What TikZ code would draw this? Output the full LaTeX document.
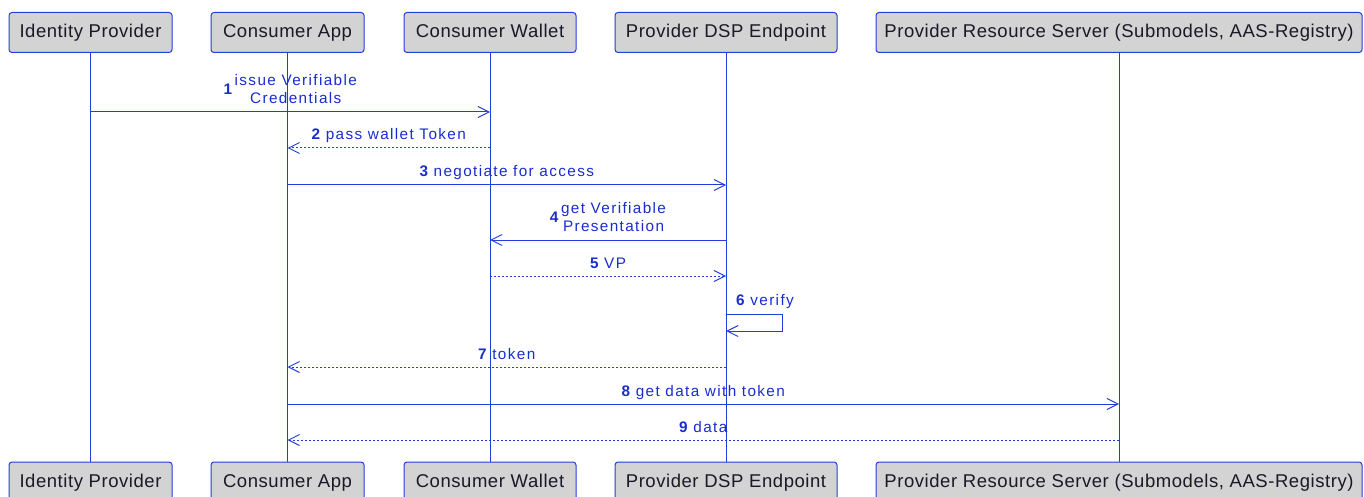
\documentclass[tikz,border=0pt]{standalone}
\usepackage{fontspec}
\setmainfont{Liberation Sans}
\newfontfamily\boxfont[LetterSpace=3]{Liberation Sans}
\newfontfamily\lblfont[LetterSpace=9]{Liberation Sans}
\usetikzlibrary{arrows.meta,calc}
\definecolor{lineblue}{RGB}{35,60,220}
\definecolor{textblue}{RGB}{25,45,205}
\definecolor{boxfill}{RGB}{211,211,211}
\definecolor{boxtext}{RGB}{25,25,40}
\tikzset{
  actor/.style={draw=lineblue, fill=boxfill, line width=1pt, rounded corners=3pt,
    minimum height=40pt, inner sep=0pt, text=boxtext, text height=13.5pt, text depth=3.5pt,
    font=\boxfont\fontsize{18.5}{20}\selectfont},
  lifeline/.style={draw=lineblue, line width=1pt},
  msg/.style={draw=lineblue, line width=1pt, -{Straight Barb[length=11pt,width=11pt]}},
  reply/.style={msg, dash pattern=on 2pt off 2pt},
  lbl/.style={text=textblue, inner sep=0pt, font=\lblfont\fontsize{15.3}{17.5}\selectfont},
}
\newcommand{\num}[1]{{\bfseries #1}}
\begin{document}
\begin{tikzpicture}[x=1pt,y=-1pt]
\useasboundingbox (0,0) rectangle (1364,497);
\begin{scope}
\clip (0,0) rectangle (1364,497);
% top actors
\node[actor, minimum width=163pt] (ip)  at (90.5,32.5) {Identity Provider};
\node[actor, minimum width=153pt] (ca)  at (287.5,32.5) {Consumer App};
\node[actor, minimum width=172pt] (cw)  at (490,32.5) {Consumer Wallet};
\node[actor, minimum width=222pt] (dsp) at (726,32.5) {Provider DSP Endpoint};
\node[actor, minimum width=486pt] (rs)  at (1119,32.5) {Provider Resource Server (Submodels, AAS-Registry)};
% bottom actors
\node[actor, minimum width=163pt] (ipB)  at (90.5,482) {Identity Provider};
\node[actor, minimum width=153pt] (caB)  at (287.5,482) {Consumer App};
\node[actor, minimum width=172pt] (cwB)  at (490,482) {Consumer Wallet};
\node[actor, minimum width=222pt] (dspB) at (726,482) {Provider DSP Endpoint};
\node[actor, minimum width=486pt] (rsB)  at (1119,482) {Provider Resource Server (Submodels, AAS-Registry)};
\end{scope}
% lifelines
\draw[lifeline] (ip.south) -- (ipB.north);
\draw[lifeline] (ca.south) -- (caB.north);
\draw[lifeline] (cw.south) -- (cwB.north);
\draw[lifeline] (dsp.south) -- (dspB.north);
\draw[lifeline] (rs.south) -- (rsB.north);
% 1
\draw[msg] (ip.south |- 0,112) -- (cw.south |- 0,112);
\node[lbl] (l1) at ($(ip.south |- 0,91)!0.5!(cw.south |- 0,91)$)
  {\num{1}\,\begin{tabular}[c]{@{}c@{}}issue Verifiable\\Credentials\end{tabular}};
% 2
\draw[reply] (cw.south |- 0,148) -- (ca.south |- 0,148);
\node[lbl, anchor=base] (l2) at ($(cw.south |- 0,139.5)!0.5!(ca.south |- 0,139.5)$) {\num{2} pass wallet Token};
% 3
\draw[msg] (ca.south |- 0,185) -- (dsp.south |- 0,185);
\node[lbl, anchor=base] (l3) at ($(ca.south |- 0,177)!0.5!(dsp.south |- 0,177)$) {\num{3} negotiate for access};
% 4
\draw[msg] (dsp.south |- 0,240) -- (cw.south |- 0,240);
\node[lbl] (l4) at ($(dsp.south |- 0,219)!0.5!(cw.south |- 0,219)$)
  {\num{4}\,\begin{tabular}[c]{@{}c@{}}get Verifiable\\Presentation\end{tabular}};
% 5
\draw[reply] (cw.south |- 0,276) -- (dsp.south |- 0,276);
\node[lbl, anchor=base] (l5) at ($(cw.south |- 0,268)!0.5!(dsp.south |- 0,268)$) {\num{5} VP};
% 6 self
\coordinate (s6) at ($(dsp.south |- 0,314)+(56,0)$);
\draw[msg] (dsp.south |- 0,314) -- (s6) -- (s6 |- 0,331) -- (dsp.south |- 0,331);
\node[lbl, anchor=base west] (l6) at ($(dsp.south |- 0,305)+(10,0)$) {\num{6} verify};
% 7
\draw[reply] (dsp.south |- 0,367) -- (ca.south |- 0,367);
\node[lbl, anchor=base] (l7) at ($(dsp.south |- 0,359)!0.5!(ca.south |- 0,359)$) {\num{7} token};
% 8
\draw[msg] (ca.south |- 0,404) -- (rs.south |- 0,404);
\node[lbl, anchor=base] (l8) at ($(ca.south |- 0,396)!0.5!(rs.south |- 0,396)$) {\num{8} get data with token};
% 9
\draw[reply] (rs.south |- 0,440) -- (ca.south |- 0,440);
\node[lbl, anchor=base] (l9) at ($(rs.south |- 0,432)!0.5!(ca.south |- 0,432)$) {\num{9} data};
\end{tikzpicture}
\end{document}
